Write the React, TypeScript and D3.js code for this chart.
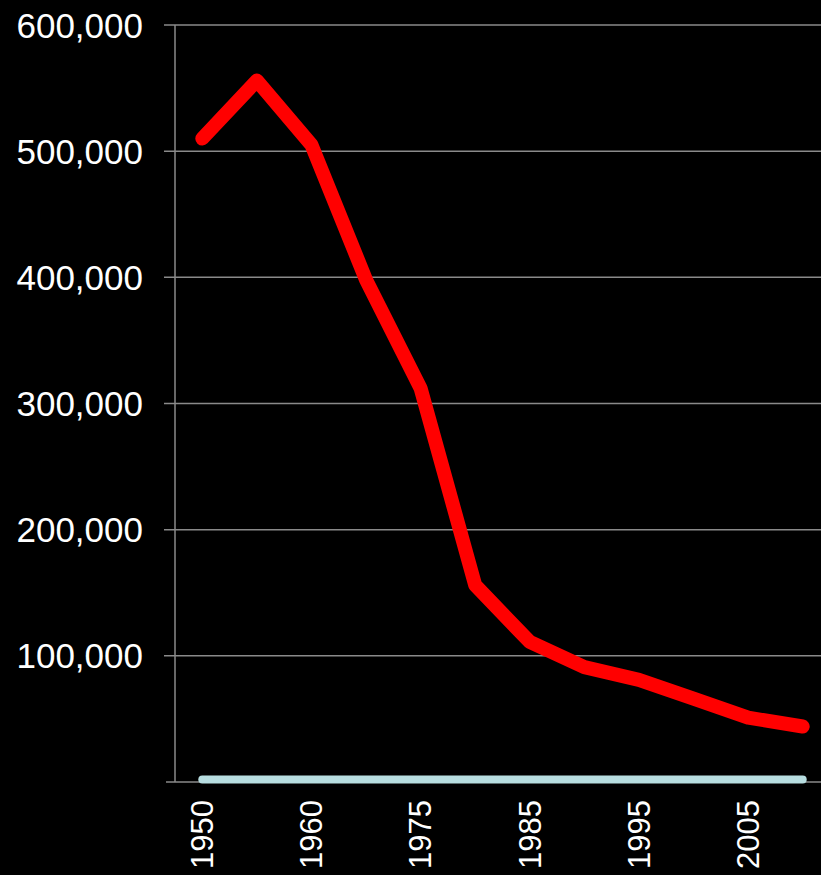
import React from 'react'
import * as d3 from 'd3'

// data
const years = ['1950', '1955', '1960', '1970', '1975', '1980', '1985', '1990', '1995', '2000', '2005', '2010']
const mainSeries = [510000, 556000, 505000, 398000, 312000, 156000, 111000, 91000, 81000, 66000, 51000, 44000]
const baseSeries = [2000, 2000, 2000, 2000, 2000, 2000, 2000, 2000, 2000, 2000, 2000, 2000]
const yTicks = [100000, 200000, 300000, 400000, 500000, 600000]
const shownYears = ['1950', '1960', '1975', '1985', '1995', '2005']

const W = 821
const H = 875

export default function App() {
  const x = d3.scaleBand<string>()
    .domain(years)
    .range([175, 830])
  const y = d3.scaleLinear()
    .domain([0, 600000])
    .range([782, 25])

  const cx = (d: string) => (x(d) ?? 0) + x.bandwidth() / 2

  const line = d3.line<number>()
    .x((d, i) => cx(years[i]))
    .y((d) => y(d))

  const fmt = d3.format(',')
  const grid = '#8a8a8a'

  return (
    <div style={{ position: 'absolute', left: 0, top: 0, width: W, height: H, background: '#000' }}>
      <svg width={W} height={H} style={{ display: 'block' }}>
        <rect width={W} height={H} fill="#000" />

        {/* gridlines + y labels */}
        {yTicks.map(t => (
          <g key={t}>
            <line x1={164} x2={W} y1={y(t)} y2={y(t)} stroke={grid} strokeWidth={1.5} />
            <text
              x={143}
              y={y(t)}
              dy="0.0em"
              textAnchor="end"
              dominantBaseline="central"
              fill="#fff"
              fontFamily="'Liberation Sans', Arial, sans-serif"
              fontSize={35}
            >
              {fmt(t)}
            </text>
          </g>
        ))}

        {/* axes */}
        <line x1={175} x2={175} y1={y(600000)} y2={y(0)} stroke={grid} strokeWidth={1.5} />
        <line x1={166} x2={W} y1={y(0)} y2={y(0)} stroke={grid} strokeWidth={1.5} />

        {/* x labels */}
        {shownYears.map(yr => (
          <text
            key={yr}
            transform={`translate(${cx(yr)}, 800) rotate(-90)`}
            dy="0.35em"
            textAnchor="end"
            fill="#fff"
            fontFamily="'Liberation Sans', Arial, sans-serif"
            fontSize={31}
          >
            {yr}
          </text>
        ))}

        {/* series */}
        <path
          d={line(baseSeries) ?? ''}
          fill="none"
          stroke="#b7dde0"
          strokeWidth={8}
          strokeLinecap="round"
          strokeLinejoin="round"
        />
        <path
          d={line(mainSeries) ?? ''}
          fill="none"
          stroke="#ff0000"
          strokeWidth={14}
          strokeLinecap="round"
          strokeLinejoin="round"
        />
      </svg>
    </div>
  )
}
